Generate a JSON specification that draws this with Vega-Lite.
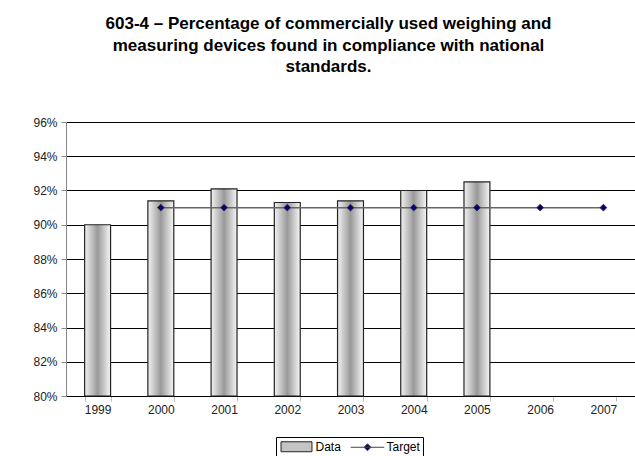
{
  "$schema": "https://vega.github.io/schema/vega-lite/v6.json",
  "width": 569,
  "height": 274,
  "autosize": {"type": "none"},
  "padding": {"left": 66, "top": 122, "right": 0, "bottom": 60},
  "background": "#ffffff",
  "config": {
    "font": "Liberation Sans",
    "view": {"stroke": null},
    "axisY": {
      "title": null,
      "values": [0.8, 0.82, 0.84, 0.86, 0.88, 0.9, 0.92, 0.94, 0.96],
      "format": ".0%",
      "labelOverlap": false,
      "labelFlush": false,
      "grid": true,
      "gridColor": "#000000",
      "gridWidth": 1,
      "domainColor": "#888888",
      "tickColor": "#888888",
      "tickSize": 5,
      "labelPadding": 4,
      "labelFontSize": 12,
      "labelColor": "#222222"
    },
    "legend": {
      "title": null,
      "orient": "none",
      "legendX": 210,
      "legendY": 315,
      "direction": "horizontal",
      "strokeColor": "#000000",
      "fillColor": "#ffffff",
      "padding": 3,
      "symbolSize": 144,
      "symbolOffset": 11,
      "symbolStrokeWidth": 1,
      "labelFontSize": 12,
      "labelColor": "#000000",
      "labelOffset": 12.5,
      "columnPadding": 7
    }
  },
  "title": {
    "text": [
      "603-4 – Percentage of commercially used weighing and",
      "measuring devices found in compliance with national",
      "standards."
    ],
    "font": "Liberation Sans",
    "fontSize": 17,
    "fontWeight": "bold",
    "lineHeight": 21.5,
    "color": "#000000",
    "anchor": "middle",
    "offset": 40,
    "dx": -22
  },
  "data": {
    "values": [
      {"year": "1999", "value": 0.900, "target": null},
      {"year": "2000", "value": 0.914, "target": 0.91},
      {"year": "2001", "value": 0.921, "target": 0.91},
      {"year": "2002", "value": 0.913, "target": 0.91},
      {"year": "2003", "value": 0.914, "target": 0.91},
      {"year": "2004", "value": 0.920, "target": 0.91},
      {"year": "2005", "value": 0.925, "target": 0.91},
      {"year": "2006", "value": null, "target": 0.91},
      {"year": "2007", "value": null, "target": 0.91}
    ]
  },
  "encoding": {
    "x": {
      "field": "year",
      "type": "ordinal",
      "scale": {"paddingInner": 0.59, "paddingOuter": 0.295},
      "axis": {
        "title": null,
        "labelAngle": 0,
        "tickBand": "extent",
        "tickColor": "#bbbbbb",
        "tickSize": 5,
        "domainColor": "#000000",
        "labelPadding": 3,
        "labelFontSize": 12,
        "labelColor": "#222222",
        "grid": false
      }
    }
  },
  "layer": [
    {
      "mark": {
        "type": "bar",
        "stroke": "#222222",
        "strokeWidth": 1.2,
        "color": {
          "gradient": "linear",
          "x1": 0, "y1": 0, "x2": 1, "y2": 0,
          "stops": [
            {"offset": 0, "color": "#f2f2f2"},
            {"offset": 0.5, "color": "#999999"},
            {"offset": 1, "color": "#f7f7f7"}
          ]
        }
      },
      "encoding": {
        "y": {
          "field": "value",
          "type": "quantitative",
          "scale": {"domain": [0.8, 0.96], "nice": false, "zero": false, "clamp": true}
        }
      }
    },
    {
      "mark": {"type": "line", "color": "#666666", "strokeWidth": 1.5},
      "encoding": {
        "y": {"field": "target", "type": "quantitative"}
      }
    },
    {
      "mark": {"type": "point", "shape": "diamond", "filled": true, "size": 45, "color": "#000080", "stroke": "#333344", "strokeWidth": 1, "opacity": 1},
      "encoding": {
        "y": {"field": "target", "type": "quantitative"}
      }
    },
    {
      "data": {"values": [{"series": "Data"}, {"series": "Target"}]},
      "transform": [{"filter": "datum.series === 'none'"}],
      "mark": {"type": "point", "filled": true, "opacity": 1, "strokeWidth": 1},
      "encoding": {
        "shape": {
          "field": "series",
          "type": "nominal",
          "scale": {"domain": ["Data", "Target"], "range": ["M-2.58,-0.83H2.58V0.83H-2.58Z", "M-2.8,0H2.8M0,-0.58L0.58,0L0,0.58L-0.58,0Z"]}
        },
        "fill": {
          "field": "series",
          "type": "nominal",
          "scale": {"domain": ["Data", "Target"], "range": ["#c4c4c4", "#000080"]}
        },
        "stroke": {
          "field": "series",
          "type": "nominal",
          "scale": {"domain": ["Data", "Target"], "range": ["#222222", "#444444"]}
        }
      }
    }
  ]
}
